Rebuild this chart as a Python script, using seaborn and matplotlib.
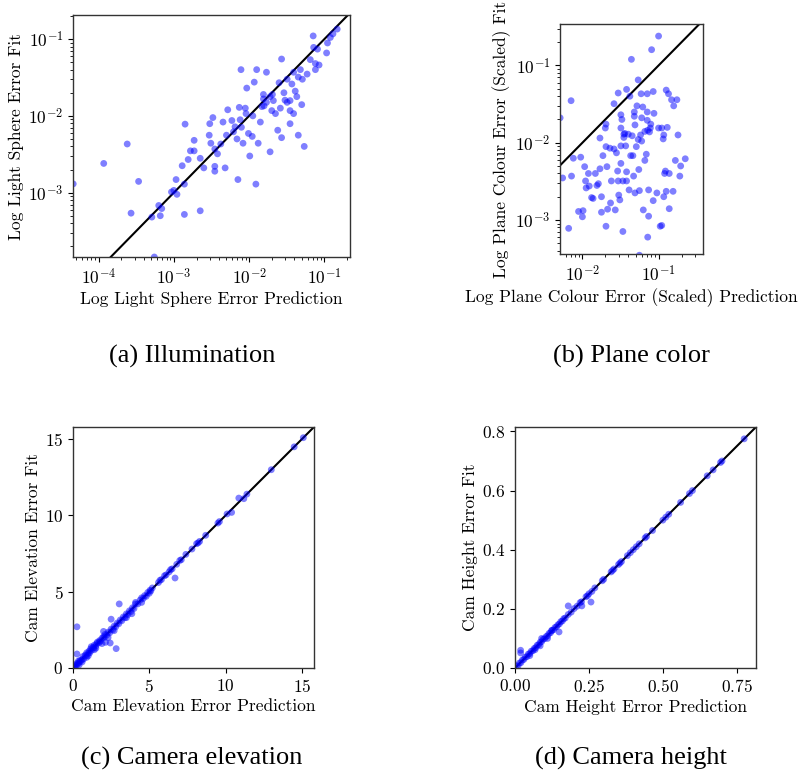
import seaborn as sns
import matplotlib.pyplot as plt
import numpy as np

# (a) Illumination: light sphere error, prediction vs fit
a_pred = [4.6e-5, 1.17e-4, 2.4e-4, 3.4e-4, 2.7e-4, 5.5e-4, 5.1e-4, 6.3e-4, 6.9e-4, 6.6e-4,
          9.3e-4, 1.0e-3, 1.1e-3, 1.07e-3, 1.29e-3, 1.38e-3, 1.38e-3, 1.41e-3, 1.55e-3, 1.66e-3,
          1.86e-3, 1.86e-3, 2.24e-3, 2.5e-3, 2.24e-3, 2.95e-3, 3.0e-3, 3.3e-3, 3.1e-3, 3.5e-3,
          3.5e-3, 3.5e-3, 3.8e-3, 4.2e-3, 4.5e-3, 4.8e-3, 5.2e-3, 5.0e-3, 5.9e-3, 6.2e-3,
          6.5e-3, 6.9e-3, 7.1e-3, 7.4e-3, 7.6e-3, 7.8e-3, 7.9e-3, 8.3e-3, 8.9e-3, 9.1e-3,
          9.3e-3, 9.8e-3, 1.02e-2, 1.1e-2, 1.12e-2, 1.23e-2, 1.26e-2, 1.32e-2, 1.17e-2, 1.41e-2,
          1.48e-2, 1.55e-2, 1.58e-2, 1.7e-2, 1.9e-2, 2.0e-2, 2.04e-2, 2.1e-2, 2.24e-2, 2.4e-2,
          2.5e-2, 2.6e-2, 2.7e-2, 2.9e-2, 3.0e-2, 3.2e-2, 3.5e-2, 3.5e-2, 3.5e-2, 3.7e-2,
          3.9e-2, 4.1e-2, 4.3e-2, 4.5e-2, 4.5e-2, 3.2e-2, 3.9e-2, 4.8e-2, 5.0e-2, 5.1e-2,
          5.4e-2, 5.9e-2, 7.1e-2, 7.2e-2, 7.6e-2, 7.6e-2, 8.1e-2, 8.5e-2, 0.107, 0.11,
          0.12, 0.13, 0.148, 6.5e-2, 1.55e-2, 1.7e-2, 1.9e-2, 2.7e-2]
a_fit = [1.3e-3, 2.4e-3, 4.3e-3, 1.4e-3, 5.4e-4, 1.45e-4, 4.8e-4, 6.8e-4, 6.2e-4, 5.0e-4,
         1.02e-3, 1.07e-3, 9.5e-4, 1.48e-3, 2.24e-3, 1.29e-3, 5.2e-4, 7.8e-3, 2.7e-3, 3.5e-3,
         4.8e-3, 3.5e-3, 2.8e-3, 2.1e-3, 5.8e-4, 5.6e-3, 7.9e-3, 9.5e-3, 4.4e-3, 3.7e-3,
         2.2e-3, 1.9e-3, 3.2e-3, 4.3e-3, 8.3e-3, 2.1e-3, 1.2e-2, 5.6e-3, 8.7e-3, 6.2e-3,
         7.2e-3, 5.0e-3, 1.48e-3, 1.29e-2, 8.9e-3, 4.0e-2, 7.1e-3, 4.4e-3, 1.26e-2, 1.07e-2,
         2.3e-2, 5.9e-3, 3.0e-3, 5.4e-3, 1.0e-2, 1.29e-3, 4.0e-2, 4.4e-3, 2.75e-2, 8.3e-3,
         1.32e-2, 1.66e-2, 1.35e-2, 3.7e-2, 3.4e-3, 1.17e-2, 1.9e-2, 1.58e-2, 1.07e-2, 6.5e-3,
         2.7e-2, 1.26e-2, 5.2e-3, 2.0e-2, 1.6e-2, 3.0e-2, 1.17e-2, 1.58e-2, 7.9e-3, 2.6e-2,
         3.7e-2, 2.1e-2, 1.78e-2, 3.2e-2, 5.6e-3, 1.5e-2, 1.07e-2, 4.0e-2, 1.4e-2, 3.0e-2,
         4.0e-3, 3.5e-2, 0.11, 7.8e-2, 4.8e-2, 4.0e-2, 7.4e-2, 4.6e-2, 6.6e-2, 8.9e-2,
         0.105, 0.117, 0.135, 5.4e-2, 1.9e-2, 1.5e-2, 1.78e-2, 5.5e-2]

# (b) Plane color: plane colour error (scaled), prediction vs fit
b_pred = [5.1e-3, 5.5e-3, 6.6e-3, 7.1e-3, 7.2e-3, 7.6e-3, 8.9e-3, 9.5e-3, 1.0e-2, 1.02e-2,
          1.07e-2, 1.1e-2, 1.12e-2, 1.2e-2, 1.23e-2, 1.32e-2, 1.38e-2, 1.48e-2, 1.55e-2, 1.62e-2,
          1.7e-2, 1.7e-2, 1.78e-2, 1.78e-2, 1.86e-2, 2.0e-2, 2.04e-2, 2.04e-2, 2.1e-2, 2.04e-2,
          2.14e-2, 2.3e-2, 2.34e-2, 2.4e-2, 2.6e-2, 2.6e-2, 2.7e-2, 2.8e-2, 2.9e-2, 2.95e-2,
          2.95e-2, 3.0e-2, 3.1e-2, 3.2e-2, 3.2e-2, 3.2e-2, 3.2e-2, 3.3e-2, 3.4e-2, 3.4e-2,
          3.5e-2, 3.5e-2, 3.6e-2, 3.7e-2, 3.8e-2, 3.8e-2, 3.8e-2, 4.0e-2, 4.1e-2, 4.2e-2,
          4.3e-2, 4.4e-2, 4.5e-2, 4.6e-2, 4.7e-2, 4.8e-2, 4.8e-2, 4.9e-2, 4.9e-2, 5.1e-2,
          5.2e-2, 5.4e-2, 5.4e-2, 5.5e-2, 5.6e-2, 5.6e-2, 5.8e-2, 5.9e-2, 6.0e-2, 6.0e-2,
          6.2e-2, 6.3e-2, 6.6e-2, 6.6e-2, 6.9e-2, 7.1e-2, 7.1e-2, 7.1e-2, 7.2e-2, 7.2e-2,
          7.4e-2, 7.4e-2, 7.6e-2, 7.8e-2, 7.9e-2, 8.1e-2, 8.5e-2, 8.5e-2, 8.7e-2, 9.5e-2,
          0.10, 0.10, 0.105, 0.11, 0.11, 0.115, 0.117, 0.117, 0.12, 0.123,
          0.126, 0.126, 0.13, 0.135, 0.138, 0.138, 0.148, 0.155, 0.158, 0.166,
          0.174, 0.18, 0.19, 0.195, 0.224]
b_fit = [2.1e-2, 3.5e-3, 7.8e-4, 3.5e-2, 3.7e-3, 6.3e-3, 1.29e-3, 6.5e-3, 1.1e-3, 1.32e-3,
         4.9e-3, 3.2e-3, 2.6e-3, 4.0e-3, 2.75e-3, 1.95e-3, 1.9e-3, 4.0e-3, 2.8e-3, 2.95e-3,
         1.15e-2, 4.6e-3, 2.0e-3, 1.26e-3, 6.8e-3, 1.55e-2, 1.74e-2, 8.9e-3, 4.9e-3, 8.3e-4,
         1.38e-3, 8.5e-3, 1.66e-3, 3.2e-3, 8.3e-3, 3.2e-2, 1.35e-3, 7.4e-3, 4.3e-3, 4.4e-2,
         3.2e-3, 2.1e-3, 1.82e-3, 9.1e-3, 1.55e-2, 2.3e-2, 5.4e-3, 2.0e-2, 3.2e-3, 7.1e-4,
         1.17e-2, 1.29e-2, 1.32e-2, 9.1e-3, 4.2e-3, 3.2e-3, 4.9e-2, 1.29e-2, 2.45e-3, 4.0e-2,
         6.8e-3, 0.12, 1.23e-2, 6.8e-3, 3.7e-3, 2.2e-2, 2.5e-2, 1.7e-2, 2.24e-3, 8.9e-3,
         3.0e-2, 1.1e-2, 6.5e-2, 4.5e-3, 3.5e-4, 2.4e-3, 1.26e-2, 4.3e-2, 2.1e-2, 1.05e-2,
         2.9e-2, 1.35e-3, 5.9e-3, 1.4e-2, 7.1e-3, 1.95e-2, 4.3e-2, 2.5e-2, 1.45e-2, 6.0e-4,
         2.45e-3, 1.12e-3, 1.38e-2, 1.55e-2, 1.74e-2, 0.16, 1.78e-3, 4.6e-2, 2.4e-2, 2.24e-3,
         0.24, 1.55e-2, 8.3e-4, 1.55e-2, 8.5e-4, 1.12e-2, 1.26e-2, 2.0e-3, 4.0e-3, 4.3e-3,
         2.35e-3, 4.8e-2, 1.58e-2, 4.3e-2, 4.0e-3, 1.4e-3, 3.6e-2, 2.35e-3, 3.0e-2, 5.9e-3,
         3.6e-2, 1.26e-2, 3.7e-3, 5.0e-3, 6.2e-3]

# (c) Camera elevation error, prediction vs fit
c_pred = [0.05, 0.1, 0.15, 0.2, 0.25, 0.3, 0.35, 0.4, 0.45, 0.5, 0.6, 0.65, 0.7, 0.8, 0.85,
          0.9, 1.0, 1.05, 1.1, 1.15, 1.2, 1.3, 1.35, 1.4, 1.5, 1.55, 1.6, 1.7, 1.75, 1.8,
          1.9, 2.0, 2.05, 2.1, 2.2, 2.3, 2.4, 2.5, 2.6, 2.7, 2.8, 2.9, 3.0, 3.1, 3.2,
          3.3, 3.4, 3.5, 3.6, 3.7, 3.8, 3.9, 4.0, 4.1, 4.25, 4.4, 4.5, 4.6, 4.7, 4.8,
          4.9, 5.0, 5.05, 5.1, 5.2, 5.6, 5.7, 5.8, 6.0, 6.1, 6.3, 6.4, 6.5, 6.8, 7.0,
          7.1, 7.4, 7.8, 8.1, 8.2, 8.3, 8.7, 9.5, 9.6, 10.1, 10.4, 11.2, 11.4, 13.0, 14.5,
          15.1, 0.26, 0.26, 2.5, 3.03, 2.83, 2.44, 2.13, 2.0, 6.69, 3.86, 10.87, 1.0, 1.5, 1.2,
          0.6, 3.5, 4.1, 2.3, 1.9, 0.9, 4.5, 2.7, 1.4, 0.4]
c_fit = [0.1, 0.05, 0.2, 0.15, 0.3, 0.25, 0.45, 0.35, 0.5, 0.45, 0.55, 0.75, 0.6, 0.85, 0.8,
         1.0, 0.95, 1.1, 1.0, 1.25, 1.15, 1.35, 1.3, 1.5, 1.45, 1.6, 1.7, 1.65, 1.8, 1.75,
         1.95, 2.05, 2.0, 2.2, 2.15, 2.35, 2.3, 2.55, 2.5, 2.75, 2.7, 2.95, 2.9, 3.15, 3.1,
         3.35, 3.3, 3.55, 3.5, 3.75, 3.7, 3.95, 3.9, 4.2, 4.2, 4.45, 4.6, 4.55, 4.75, 4.7,
         4.95, 4.9, 5.1, 5.05, 5.25, 5.6, 5.75, 5.8, 6.05, 6.1, 6.3, 6.45, 6.5, 6.8, 7.05,
         7.1, 7.45, 7.8, 8.15, 8.2, 8.3, 8.7, 9.5, 9.6, 10.1, 10.2, 11.1, 11.4, 13.0, 14.5,
         15.1, 2.7, 0.92, 3.2, 4.2, 1.27, 1.64, 1.68, 2.4, 5.9, 3.56, 11.14, 0.8, 1.3, 1.4,
         0.4, 3.3, 4.3, 2.0, 1.6, 0.7, 4.3, 2.45, 1.2, 0.2]

# (d) Camera height error, prediction vs fit
d_pred = [0.005, 0.01, 0.015, 0.02, 0.025, 0.03, 0.035, 0.04, 0.045, 0.05, 0.055, 0.06,
          0.065, 0.07, 0.075, 0.08, 0.085, 0.09, 0.095, 0.10, 0.105, 0.11, 0.115, 0.12,
          0.125, 0.13, 0.135, 0.14, 0.145, 0.15, 0.155, 0.16, 0.165, 0.17, 0.18, 0.19,
          0.20, 0.21, 0.22, 0.225, 0.24, 0.245, 0.25, 0.26, 0.27, 0.295, 0.30, 0.325,
          0.33, 0.335, 0.35, 0.355, 0.36, 0.38, 0.39, 0.40, 0.41, 0.42, 0.44, 0.445,
          0.465, 0.50, 0.51, 0.52, 0.56, 0.59, 0.60, 0.65, 0.67, 0.695, 0.70, 0.775,
          0.019, 0.019, 0.257, 0.226, 0.18, 0.149, 0.124, 0.068, 0.09, 0.05, 0.11, 0.085]
d_fit = [0.008, 0.006, 0.017, 0.018, 0.027, 0.029, 0.037, 0.038, 0.047, 0.049, 0.057, 0.058,
         0.066, 0.069, 0.077, 0.079, 0.087, 0.089, 0.097, 0.099, 0.106, 0.109, 0.117, 0.119,
         0.127, 0.129, 0.137, 0.139, 0.146, 0.149, 0.157, 0.159, 0.167, 0.169, 0.181, 0.189,
         0.201, 0.209, 0.221, 0.224, 0.241, 0.244, 0.251, 0.259, 0.271, 0.295, 0.30, 0.325,
         0.33, 0.335, 0.35, 0.355, 0.36, 0.38, 0.39, 0.40, 0.41, 0.42, 0.44, 0.445,
         0.465, 0.50, 0.51, 0.52, 0.56, 0.59, 0.60, 0.65, 0.67, 0.695, 0.70, 0.775,
         0.06, 0.051, 0.223, 0.21, 0.21, 0.122, 0.127, 0.062, 0.1, 0.042, 0.1, 0.075]

panels = [
    dict(x=a_pred, y=a_fit, log=True, xlim=(4.57e-5, 0.219), ylim=(1.45e-4, 0.206),
         xlabel='Log Light Sphere Error Prediction', ylabel='Log Light Sphere Error Fit',
         rect=[73, 15, 277, 242], caption='(a) Illumination', cap=(192, 363)),
    dict(x=b_pred, y=b_fit, log=True, xlim=(5.08e-3, 0.383), ylim=(3.63e-4, 0.344),
         xlabel='Log Plane Colour Error (Scaled) Prediction',
         ylabel='Log Plane Colour Error (Scaled) Fit',
         rect=[560, 24, 143, 230], caption='(b) Plane color', cap=(631, 363)),
    dict(x=c_pred, y=c_fit, log=False, xlim=(0, 15.8), ylim=(0, 15.8),
         xlabel='Cam Elevation Error Prediction', ylabel='Cam Elevation Error Fit',
         rect=[73, 427, 241, 241], caption='(c) Camera elevation', cap=(192, 765)),
    dict(x=d_pred, y=d_fit, log=False, xlim=(0, 0.815), ylim=(0, 0.815),
         xlabel='Cam Height Error Prediction', ylabel='Cam Height Error Fit',
         rect=[515, 427, 241, 241], caption='(d) Camera height', cap=(631, 765)),
]

sns.set_style('ticks')
plt.rcParams['font.family'] = ['cmr10']
plt.rcParams['mathtext.fontset'] = 'cm'
plt.rcParams['axes.unicode_minus'] = False
plt.rcParams['axes.formatter.use_mathtext'] = True
# plain black text and frames, like the default matplotlib look
plt.rcParams['text.color'] = 'black'
plt.rcParams['axes.labelcolor'] = 'black'
plt.rcParams['xtick.color'] = 'black'
plt.rcParams['ytick.color'] = 'black'
plt.rcParams['axes.edgecolor'] = '0.2'

W, H = 798, 781
fig = plt.figure(figsize=(W / 100, H / 100), dpi=100)

for p in panels:
    l, t, w, h = p['rect']
    ax = fig.add_axes([l / W, 1 - (t + h) / H, w / W, h / H])
    if p['log']:
        ax.set_xscale('log')
        ax.set_yscale('log')
    lo = min(p['xlim'][0], p['ylim'][0])
    hi = max(p['xlim'][1], p['ylim'][1])
    ax.plot([lo, hi], [lo, hi], color='black', lw=1.5, zorder=1)
    sns.scatterplot(x=p['x'], y=p['y'], ax=ax, color='blue', alpha=0.5, s=24,
                    edgecolor='none', linewidth=0, zorder=2)
    ax.set_xlim(p['xlim'])
    ax.set_ylim(p['ylim'])
    ax.set_xlabel(p['xlabel'], fontsize=12.5, labelpad=3)
    ax.set_ylabel(p['ylabel'], fontsize=12.5, labelpad=3)
    ax.tick_params(labelsize=12.5)
    for s in ax.spines.values():
        s.set_linewidth(1.0)
    fig.text(p['cap'][0] / W, 1 - p['cap'][1] / H, p['caption'], ha='center',
             va='baseline', fontsize=19, family='Liberation Serif', color='black')

fig.savefig('out.png', dpi=100)
